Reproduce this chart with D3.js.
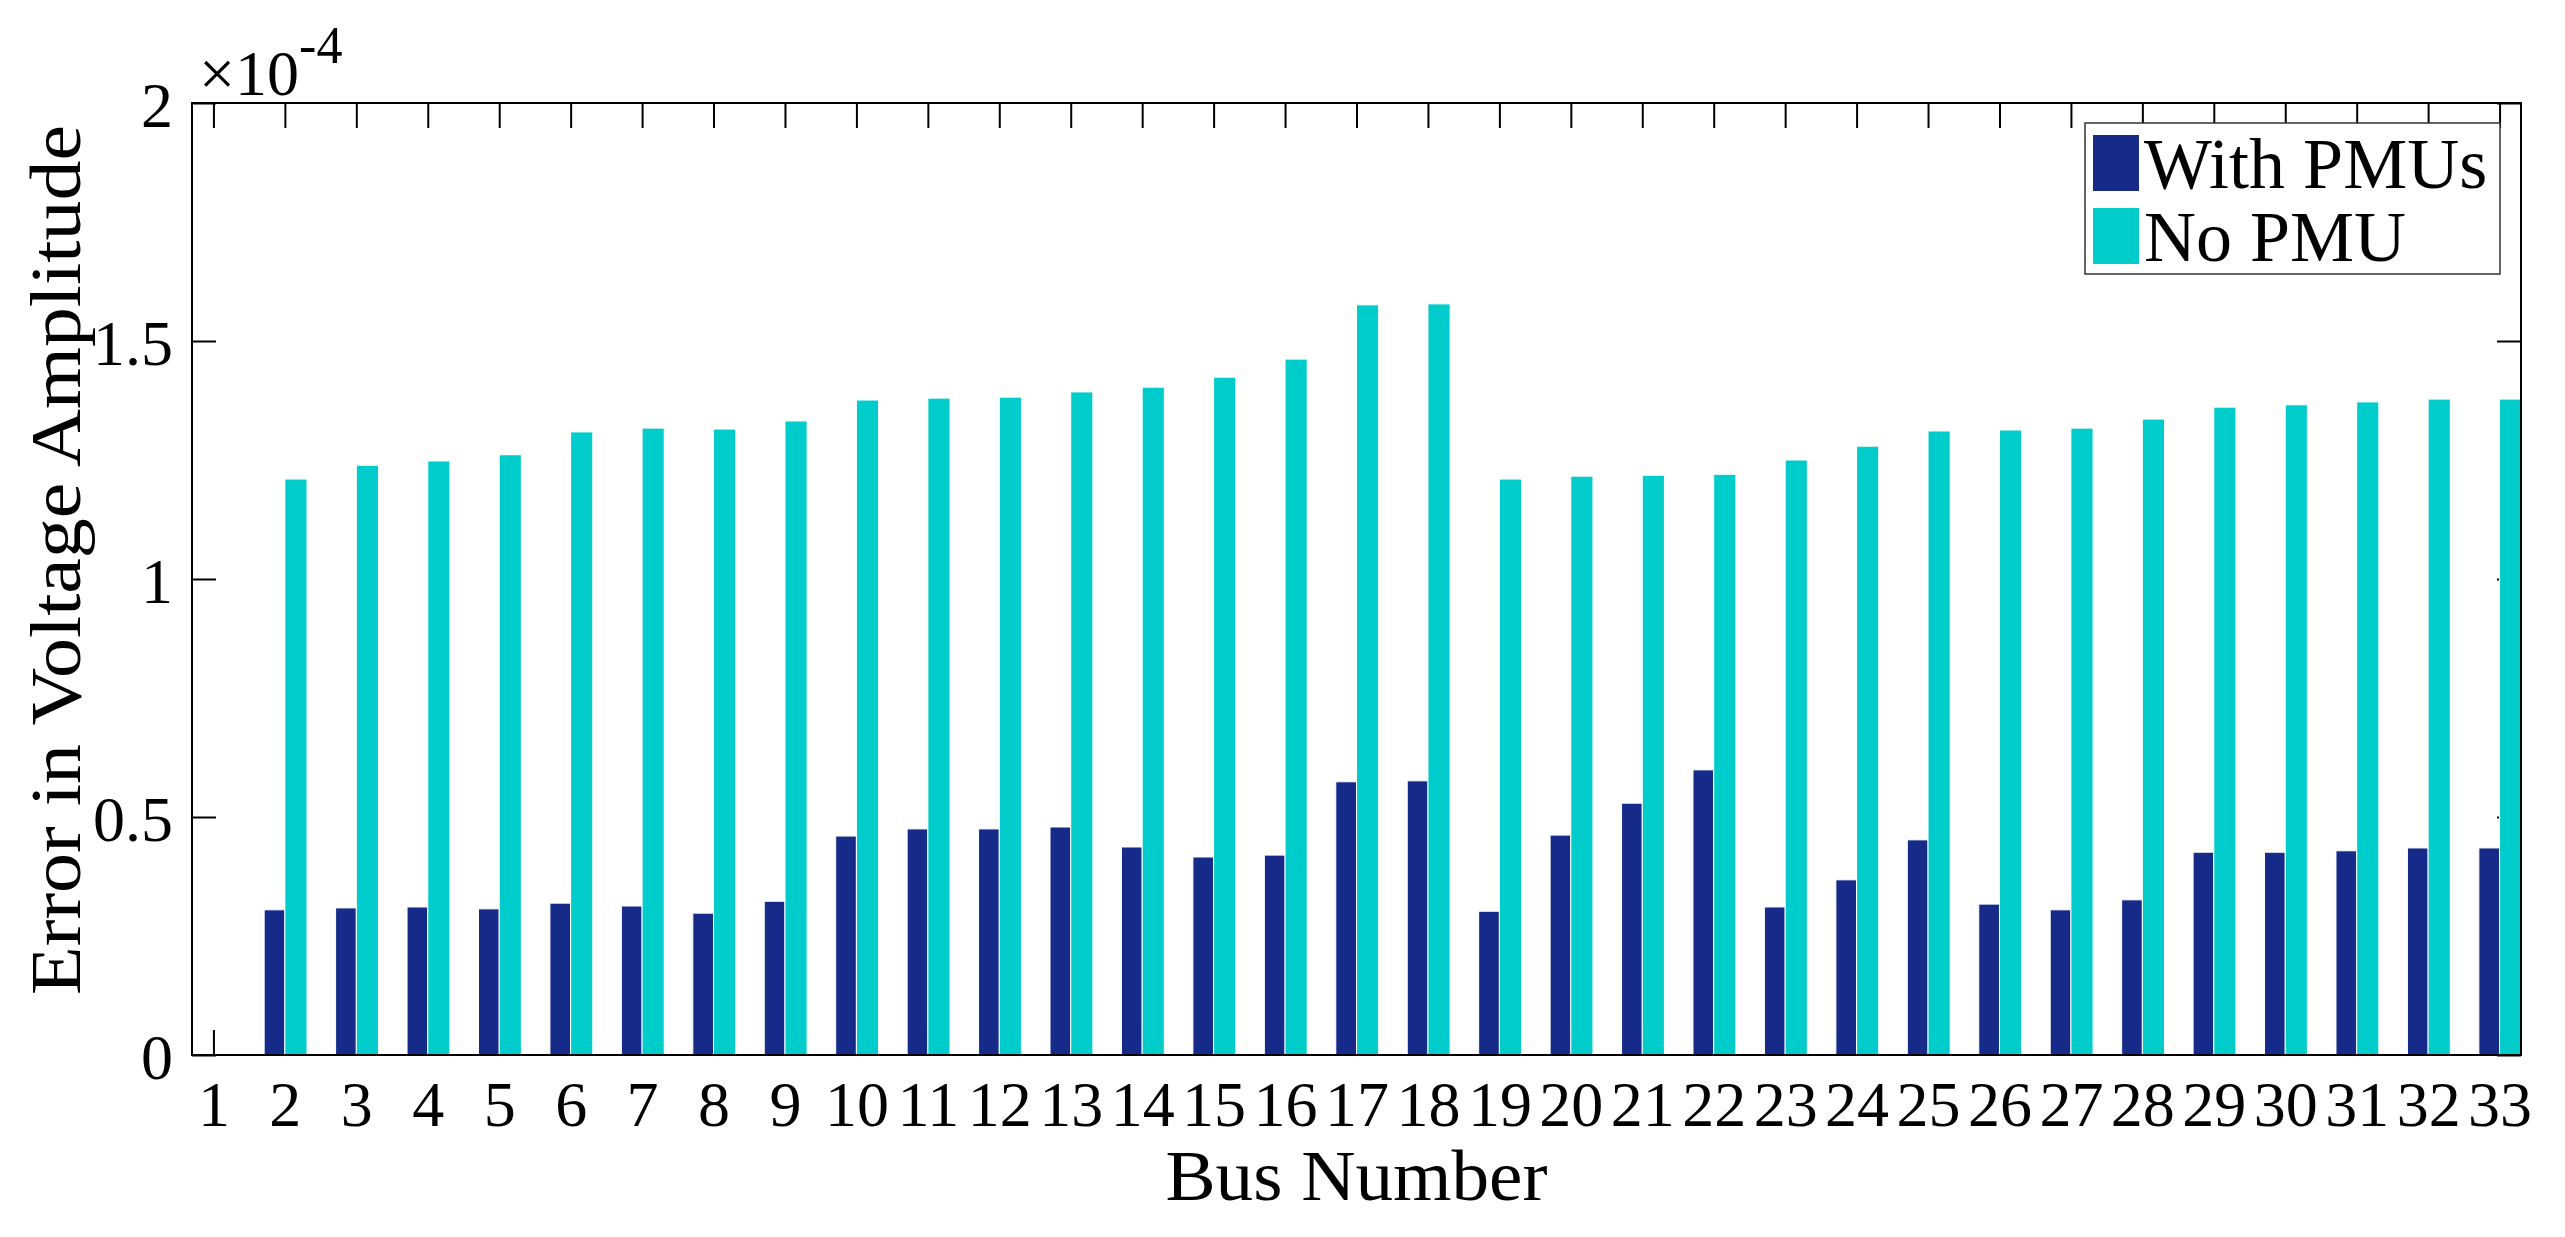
<!DOCTYPE html>
<html>
<head>
	<meta charset="utf-8">
	<title>Error in Voltage Amplitude</title>
	<style type="text/css">
		body {
			margin: 0;
			background: white;
		}
		svg text {
			font-family: "Liberation Serif", "Times New Roman", serif;
			fill: black;
		}
	</style>
</head>
<body>

<svg id="chart"></svg>

<script type="text/javascript" src="https://d3js.org/d3.v7.min.js"></script>
<script type="text/javascript">

	// values are in units of 1e-4
	var buses = [1, 2, 3, 4, 5, 6, 7, 8, 9, 10, 11, 12, 13, 14, 15, 16, 17,
		18, 19, 20, 21, 22, 23, 24, 25, 26, 27, 28, 29, 30, 31, 32, 33];

	var withPMUs = [0, 0.305, 0.309, 0.311, 0.307, 0.319, 0.313, 0.298, 0.323, 0.460,
		0.475, 0.475, 0.479, 0.437, 0.416, 0.420, 0.574, 0.576, 0.302, 0.462,
		0.529, 0.599, 0.311, 0.368, 0.452, 0.317, 0.305, 0.326, 0.426, 0.426,
		0.429, 0.435, 0.435];

	var noPMU = [0, 1.210, 1.239, 1.248, 1.261, 1.309, 1.317, 1.315, 1.332, 1.376,
		1.380, 1.382, 1.393, 1.403, 1.424, 1.462, 1.576, 1.578, 1.210, 1.216,
		1.218, 1.220, 1.250, 1.279, 1.311, 1.313, 1.317, 1.336, 1.361, 1.366,
		1.372, 1.378, 1.378];

	var seriesNames = ["With PMUs", "No PMU"];
	var seriesColors = ["#152a89", "#00cccc"];
	var yTicks = [0, 0.5, 1, 1.5, 2];

	var width = 2565,
		height = 1237;

	var plotLeft = 192, plotRight = 2521, plotTop = 103, plotBottom = 1055;

	var svg = d3.select("#chart")
		.attr("width", width)
		.attr("height", height)

	var x = d3.scaleLinear().domain([0.7, 33.3]).range([plotLeft, plotRight]);
	var y = d3.scaleLinear().domain([0, 2]).range([plotBottom, plotTop]);

	// ticks first, bars cover them
	svg.append("g")
		.attr("transform", `translate(0,${plotBottom})`)
		.call(d3.axisBottom(x).tickValues(buses).tickSizeInner(-25).tickSizeOuter(0).tickPadding(26))
		.call(g => g.selectAll("text").style("font-size", "64px"))

	svg.append("g")
		.attr("transform", `translate(0,${plotTop})`)
		.call(d3.axisTop(x).tickValues(buses).tickSizeInner(-25).tickSizeOuter(0).tickFormat(""))

	svg.append("g")
		.attr("transform", `translate(${plotLeft},0)`)
		.call(d3.axisLeft(y).tickValues(yTicks).tickSizeInner(-24).tickSizeOuter(0).tickPadding(19).tickFormat(d3.format("~g")))
		.call(g => g.selectAll("text").style("font-size", "64px").attr("dy", "0.36em"))

	svg.append("g")
		.attr("transform", `translate(${plotRight},0)`)
		.call(d3.axisRight(y).tickValues(yTicks).tickSizeInner(-24).tickSizeOuter(0).tickFormat(""))

	svg.selectAll(".tick line").attr("stroke", "black").attr("stroke-width", 2)
	svg.selectAll(".domain").remove()

	// grouped bars
	var series = [
		{ name: seriesNames[0], values: withPMUs, from: -0.29, to: 0 },
		{ name: seriesNames[1], values: noPMU, from: 0, to: 0.31 }
	];

	series.forEach(function(s, i) {
		svg.append("g")
			.selectAll("rect")
			.data(buses)
			.enter().append("rect")
				.attr("x", (b) => x(b + s.from))
				.attr("width", (b) => x(b + s.to) - x(b + s.from))
				.attr("y", (b, j) => y(s.values[j]))
				.attr("height", (b, j) => y(0) - y(s.values[j]))
				.attr("fill", seriesColors[i])
				.attr("stroke", "white")
				.attr("stroke-width", 1)
	})

	// box
	svg.append("rect")
		.attr("x", plotLeft)
		.attr("y", plotTop)
		.attr("width", plotRight - plotLeft)
		.attr("height", plotBottom - plotTop)
		.attr("fill", "none")
		.attr("stroke", "black")
		.attr("stroke-width", 2)

	// exponent
	var expo = svg.append("text")
		.attr("x", 199)
		.attr("y", 95)
		.style("font-size", "64px")
	expo.append("tspan").text("\u00d710")
	expo.append("tspan").attr("dy", -32).style("font-size", "52px").text("-4")

	// axis titles
	svg.append("text")
		.attr("x", (plotLeft + plotRight) / 2)
		.attr("y", 1200)
		.attr("text-anchor", "middle")
		.attr("textLength", 382)
		.attr("lengthAdjust", "spacingAndGlyphs")
		.style("font-size", "72px")
		.text("Bus Number")

	svg.append("text")
		.attr("transform", "translate(80,560) rotate(-90)")
		.attr("text-anchor", "middle")
		.attr("textLength", 870)
		.attr("lengthAdjust", "spacingAndGlyphs")
		.style("font-size", "72px")
		.text("Error in Voltage Amplitude")

	// legend
	var legend = svg.append("g").attr("transform", "translate(2085,123)")

	legend.append("rect")
		.attr("width", 415)
		.attr("height", 151)
		.attr("fill", "white")
		.attr("stroke", "#333")
		.attr("stroke-width", 1.5)

	var item = legend.selectAll(".item")
		.data(seriesNames)
		.enter().append("g")
			.attr("class", "item")
			.attr("transform", (d, i) => `translate(0,${12 + i * 73})`)

	item.append("rect")
		.attr("x", 8)
		.attr("width", 46)
		.attr("height", 56)
		.attr("fill", (d, i) => seriesColors[i])

	item.append("text")
		.attr("x", 59)
		.attr("y", 53)
		.style("font-size", "72px")
		.text(d => d)

</script>
</body>
</html>
